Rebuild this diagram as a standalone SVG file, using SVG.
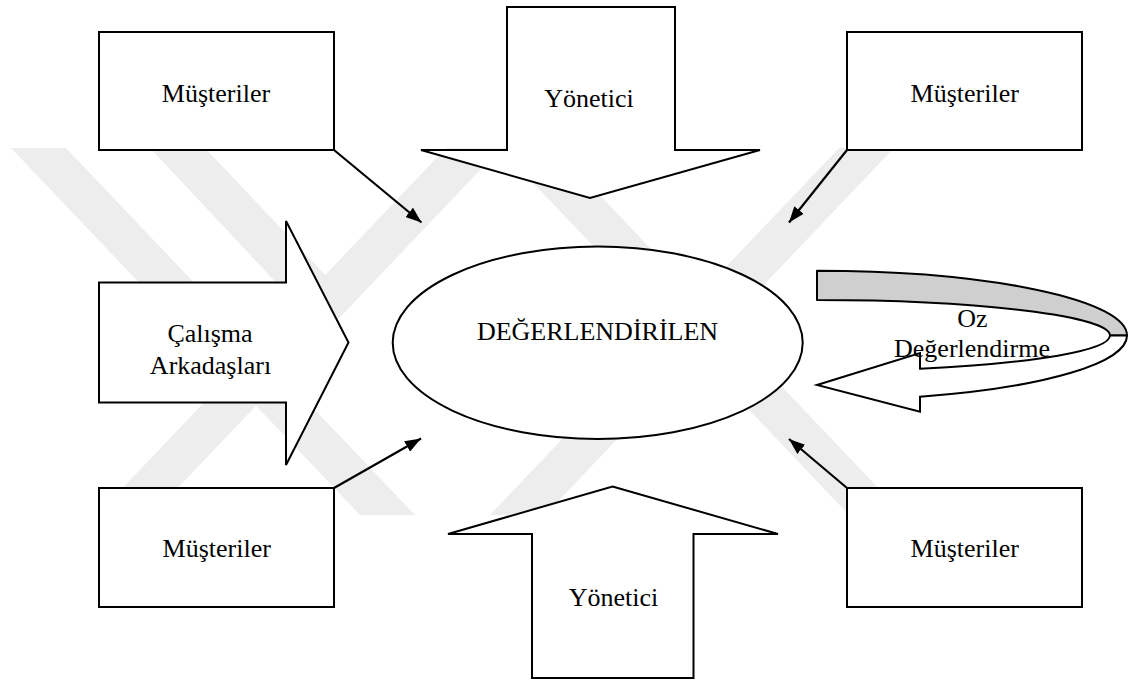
<svg xmlns="http://www.w3.org/2000/svg" width="1128" height="684" viewBox="0 0 1128 684">
  <style>
    .shape { fill: #ffffff; stroke: #000000; stroke-width: 2; stroke-linejoin: miter; }
    .lbl { font-family: "Liberation Serif", "Times New Roman", serif; font-size: 26px; text-anchor: middle; fill: #000000; }
    .conn { fill: none; stroke: #000000; stroke-width: 2.2; marker-end: url(#head); }
    .band { fill: #ededed; }
  </style>
  <defs>
    <marker id="head" viewBox="0 0 16 12" refX="16" refY="6" markerWidth="16" markerHeight="12" markerUnits="userSpaceOnUse" orient="auto">
      <path d="M0,0 L16,6 L0,12 Z" fill="#000000"/>
    </marker>
    <clipPath id="wmClip">
      <rect x="0" y="148" width="1128" height="367"/>
    </clipPath>
  </defs>

  <rect x="0" y="0" width="1128" height="684" fill="#ffffff"/>

  <!-- background emblem: light diagonal bands -->
  <g id="watermark" clip-path="url(#wmClip)">
    <polygon class="band" points="11,148 66,148 415,515 360,515"/>
    <polygon class="band" points="150,148 205,148 330,280 300,308"/>
    <polygon class="band" points="97,515 152,515 501,148 446,148"/>
    <polygon class="band" points="500,148 555,148 904,515 849,515"/>
    <polygon class="band" points="490,515 545,515 894,148 839,148"/>
  </g>

  <g id="connectors">
    <line class="conn" x1="334" y1="150" x2="421.5" y2="222.5"/>
    <line class="conn" x1="847" y1="150" x2="789" y2="222.5"/>
    <line class="conn" x1="334" y1="488" x2="421" y2="438.5"/>
    <line class="conn" x1="847" y1="488" x2="789" y2="439"/>
  </g>

  <g id="musteriler-top-left">
    <rect class="shape" x="99" y="32" width="235" height="118"/>
    <text class="lbl" x="216" y="101.5">Müşteriler</text>
  </g>

  <g id="musteriler-top-right">
    <rect class="shape" x="847" y="32" width="235" height="118"/>
    <text class="lbl" x="964.7" y="101.5">Müşteriler</text>
  </g>

  <g id="musteriler-bottom-left">
    <rect class="shape" x="99" y="488" width="235" height="119"/>
    <text class="lbl" x="216.7" y="557.3">Müşteriler</text>
  </g>

  <g id="musteriler-bottom-right">
    <rect class="shape" x="847" y="488" width="235" height="119"/>
    <text class="lbl" x="964.7" y="557.3">Müşteriler</text>
  </g>

  <g id="yonetici-top">
    <polygon class="shape" points="507,7 675,7 675,150 760,150 590,198 421,150 507,150"/>
    <text class="lbl" x="589" y="106.5">Yönetici</text>
  </g>

  <g id="yonetici-bottom">
    <polygon class="shape" points="612.5,486.5 778,534 693.5,534 693.5,678 532,678 532,534 448,534"/>
    <text class="lbl" x="613.5" y="606">Yönetici</text>
  </g>

  <g id="calisma-arkadaslari">
    <polygon class="shape" points="99,282.5 286,282.5 286,221 348.5,342.5 286,465 286,402.5 99,402.5"/>
    <text class="lbl" x="210" y="341.7">Çalışma</text>
    <text class="lbl" x="210.5" y="374.3">Arkadaşları</text>
  </g>

  <g id="degerlendirilen">
    <ellipse class="shape" cx="597.7" cy="342.8" rx="205" ry="96.2" stroke-width="1.6"/>
    <text class="lbl" x="597.5" y="340">DEĞERLENDİRİLEN</text>
  </g>

  <g id="oz-degerlendirme">
    <!-- back face of the curved ribbon -->
    <path d="M817,270.7 A310,64.8 0 0 1 1127,335.5 L1110,335.5 A293,35.5 0 0 0 817,300 Z" fill="#cfcfcf" stroke="#000000" stroke-width="2" stroke-linejoin="round"/>
    <!-- front face ending in the arrowhead -->
    <path d="M1127,335.5 A310,64.8 0 0 1 920,396.7 L920,411.7 L817,385 L920,353 L920,368.7 A293,35.5 0 0 0 1110,335.5 Z" fill="#ffffff" stroke="#000000" stroke-width="2" stroke-linejoin="miter"/>
    <text class="lbl" x="972.5" y="327.3">Oz</text>
    <text class="lbl" x="972" y="357.3">Değerlendirme</text>
  </g>
</svg>
